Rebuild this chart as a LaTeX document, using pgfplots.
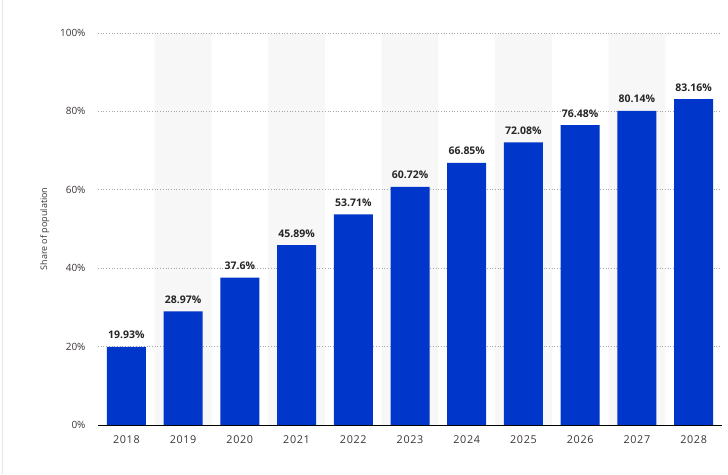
\documentclass[border=0pt]{standalone}
\usepackage{fontspec}
\setmainfont{Open Sans}
\usepackage{pgfplots}
\pgfplotsset{compat=1.18}
\definecolor{barblue}{HTML}{0036C9}
\definecolor{band}{HTML}{F7F7F7}
\definecolor{ticktext}{HTML}{3C3535}
\definecolor{gridgray}{HTML}{A8A8A8}
\begin{document}
\begin{tikzpicture}
	\useasboundingbox (0pt,0pt) rectangle (728pt,474pt);
	\draw[gray!20, line width=1pt] (2pt,0pt) -- (2pt,474pt);
	\begin{axis}[
	at={(98pt,49pt)}, anchor=south west,
	scale only axis,
	width=624pt, height=392pt,
	xmin=-0.5, xmax=10.5,
	ymin=0, ymax=100,
	xtick={0,...,10},
	xticklabels={2018,2019,2020,2021,2022,2023,2024,2025,2026,2027,2028},
	ytick={0,20,40,60,80,100},
	yticklabel={\pgfmathprintnumber{\tick}\%},
	/pgf/number format/assume math mode=true,
	major tick length=0pt,
	tick label style={font=\fontsize{10}{12}\selectfont, text=ticktext},
	xticklabel style={font=\fontsize{10.8}{12}\selectfont\addfontfeature{LetterSpace=6}, yshift=-7pt},
	yticklabel style={xshift=-9pt},
	ylabel={Share of population},
	ylabel style={font=\fontsize{9}{11}\selectfont, text=ticktext},
	ylabel shift=4pt,
	axis line style={draw=none},
	ybar, bar shift=0pt,
	]
	% alternating background bands
	\addplot[fill=band, draw=none, bar width=1] coordinates {
		(1,100) (3,100) (5,100) (7,100) (9,100)
	};
	% dotted grid lines over the bands
	\draw[gridgray, dotted, line width=0.7pt] (axis cs:-0.5,20) -- (axis cs:10.5,20);
	\draw[gridgray, dotted, line width=0.7pt] (axis cs:-0.5,40) -- (axis cs:10.5,40);
	\draw[gridgray, dotted, line width=0.7pt] (axis cs:-0.5,60) -- (axis cs:10.5,60);
	\draw[gridgray, dotted, line width=0.7pt] (axis cs:-0.5,80) -- (axis cs:10.5,80);
	\draw[gridgray, dotted, line width=0.7pt] (axis cs:-0.5,100) -- (axis cs:10.5,100);
	\addplot[fill=barblue, draw=none, bar width=39pt,
		nodes near coords={\pgfmathprintnumber[fixed,precision=2]{\pgfplotspointmeta}\%},
		every node near coord/.append style={font=\bfseries\fontsize{10.5}{12}\selectfont, text=black!85, anchor=base, yshift=8pt, inner sep=0pt},
	] coordinates {
		(0,19.93)
		(1,28.97)
		(2,37.6)
		(3,45.89)
		(4,53.71)
		(5,60.72)
		(6,66.85)
		(7,72.08)
		(8,76.48)
		(9,80.14)
		(10,83.16)
	};
	\draw[black, line width=1pt] (axis cs:-0.5,0) -- (axis cs:10.5,0);
	\end{axis}
\end{tikzpicture}
\end{document}
